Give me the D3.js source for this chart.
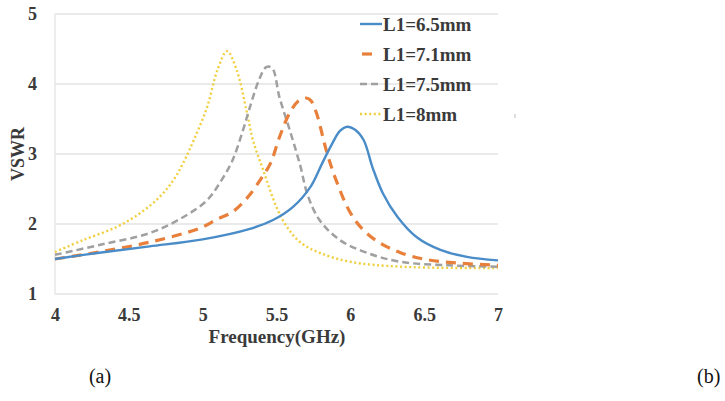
<!DOCTYPE html>
<html>
<head>
<meta charset="utf-8">
<script src="https://cdn.jsdelivr.net/npm/d3@7"></script>
<style>
  body { margin: 0; background: #fff; }
  svg { display: block; }
  .tick text { font-family: "Liberation Serif", "Times New Roman", serif; font-weight: bold; font-size: 18px; fill: #3a3a3a; }
</style>
</head>
<body>
<svg id="chart" width="725" height="401"></svg>
<script>
// frequency (GHz) / VSWR per series
const freq65 = [4, 4.3, 4.64, 5.0, 5.32, 5.48, 5.61, 5.73, 5.81, 5.88, 5.93, 5.98, 6.03, 6.09, 6.15, 6.22, 6.32, 6.45, 6.61, 6.79, 7];
const vswr65 = [1.5, 1.59, 1.68, 1.78, 1.93, 2.06, 2.24, 2.53, 2.87, 3.16, 3.33, 3.39, 3.35, 3.2, 2.81, 2.44, 2.1, 1.81, 1.63, 1.53, 1.48];

const freq71 = [4, 4.3, 4.64, 4.98, 5.1, 5.2, 5.27, 5.32, 5.39, 5.46, 5.52, 5.59, 5.65, 5.7, 5.73, 5.77, 5.84, 5.91, 6.0, 6.09, 6.2, 6.34, 6.52, 6.74, 7];
const vswr71 = [1.5, 1.6, 1.74, 1.94, 2.07, 2.17, 2.3, 2.42, 2.63, 2.87, 3.24, 3.59, 3.76, 3.8, 3.77, 3.59, 3.03, 2.59, 2.16, 1.91, 1.73, 1.59, 1.49, 1.44, 1.41];

const freq75 = [4, 4.3, 4.64, 4.87, 5.03, 5.12, 5.2, 5.27, 5.32, 5.38, 5.43, 5.47, 5.52, 5.59, 5.66, 5.71, 5.79, 5.93, 6.11, 6.34, 6.67, 7];
const vswr75 = [1.56, 1.7, 1.87, 2.1, 2.34, 2.6, 2.9, 3.32, 3.67, 4.05, 4.24, 4.23, 3.81, 3.34, 2.84, 2.42, 2.06, 1.77, 1.59, 1.46, 1.41, 1.39];

const freq80 = [4, 4.19, 4.42, 4.58, 4.71, 4.8, 4.87, 4.94, 5.03, 5.1, 5.165, 5.23, 5.3, 5.34, 5.41, 5.5, 5.57, 5.66, 5.79, 6.0, 6.34, 7];
const vswr80 = [1.6, 1.77, 1.96, 2.16, 2.39, 2.62, 2.88, 3.2, 3.67, 4.2, 4.47, 4.2, 3.59, 3.2, 2.77, 2.24, 1.96, 1.74, 1.59, 1.46, 1.39, 1.37];

const seriesNames = ["L1=6.5mm", "L1=7.1mm", "L1=7.5mm", "L1=8mm"];
const xTicks = [4, 4.5, 5, 5.5, 6, 6.5, 7];
const yTicks = [1, 2, 3, 4, 5];

const series = [
    {name: seriesNames[0], f: freq65, v: vswr65, color: "#4a8cc8", dash: null, width: 2.4, sample: [0, 22]},
    {name: seriesNames[1], f: freq71, v: vswr71, color: "#e8803c", dash: "10,7", width: 3.2, sample: [2, 14]},
    {name: seriesNames[2], f: freq75, v: vswr75, color: "#a0a0a0", dash: "7,4", width: 2.5, sample: [0, 22]},
    {name: seriesNames[3], f: freq80, v: vswr80, color: "#f0cf3e", dash: "2,2.6", width: 2.4, sample: [0, 22]}
];

const svg = d3.select("#chart");
const serif = '"Liberation Serif", "Times New Roman", serif';
const textColor = "#3a3a3a";

const x = d3.scaleLinear().domain([4, 7]).range([55, 498]);
const y = d3.scaleLinear().domain([1, 5]).range([294, 14]);

// gridlines
svg.append("g")
    .selectAll("line")
    .data(yTicks)
    .join("line")
    .attr("x1", x(4)).attr("x2", x(7))
    .attr("y1", d => y(d)).attr("y2", d => y(d))
    .attr("stroke", "#e3e3e3")
    .attr("stroke-width", 1.3);

// left axis line
svg.append("line")
    .attr("x1", x(4)).attr("x2", x(4))
    .attr("y1", y(5)).attr("y2", y(1))
    .attr("stroke", "#e3e3e3").attr("stroke-width", 1.3);

// axes (labels only)
const xAxis = svg.append("g")
    .attr("transform", `translate(0,${y(1)})`)
    .call(d3.axisBottom(x).tickValues(xTicks).tickSize(0).tickPadding(14).tickFormat(d3.format("")));
xAxis.select(".domain").remove();

const yAxis = svg.append("g")
    .attr("transform", `translate(${x(4)},0)`)
    .call(d3.axisLeft(y).tickValues(yTicks).tickSize(0).tickPadding(18).tickFormat(d3.format("d")));
yAxis.select(".domain").remove();

// curves
const line = d3.line()
    .x(d => x(d[0]))
    .y(d => y(d[1]))
    .curve(d3.curveCatmullRom.alpha(0.5));

svg.append("g")
    .selectAll("path")
    .data(series.slice().reverse())
    .join("path")
    .attr("fill", "none")
    .attr("stroke", d => d.color)
    .attr("stroke-width", d => d.width)
    .attr("stroke-dasharray", d => d.dash)
    .attr("d", d => line(d.f.map((f, i) => [f, d.v[i]])));

// legend
const legend = svg.append("g").attr("transform", "translate(360,24)");
const item = legend.selectAll("g")
    .data(series)
    .join("g")
    .attr("transform", (d, i) => `translate(0,${i * 30})`);
item.append("line")
    .attr("x1", d => d.sample[0]).attr("x2", d => d.sample[1])
    .attr("y1", 0).attr("y2", 0)
    .attr("stroke", d => d.color)
    .attr("stroke-width", d => d.width)
    .attr("stroke-dasharray", d => d.dash);
item.append("text")
    .attr("x", 23).attr("y", 0).attr("dy", "0.35em")
    .attr("font-family", serif).attr("font-weight", "bold").attr("font-size", 19)
    .attr("fill", textColor)
    .text(d => d.name);

// axis titles
svg.append("text")
    .attr("transform", `translate(24,${(y(5) + y(1)) / 2}) rotate(-90)`)
    .attr("text-anchor", "middle")
    .attr("font-family", serif).attr("font-weight", "bold").attr("font-size", 18)
    .attr("fill", textColor)
    .text("VSWR");

svg.append("text")
    .attr("x", 277).attr("y", 343)
    .attr("text-anchor", "middle")
    .attr("font-family", serif).attr("font-weight", "bold").attr("font-size", 19)
    .attr("fill", textColor)
    .text("Frequency(GHz)");

// tiny stray mark right of the plot
svg.append("line")
    .attr("x1", 515).attr("x2", 515).attr("y1", 114).attr("y2", 118)
    .attr("stroke", "#bbb").attr("stroke-width", 1);

// panel captions
svg.append("text")
    .attr("x", 100).attr("y", 383)
    .attr("text-anchor", "middle")
    .attr("font-family", serif).attr("font-size", 20)
    .attr("fill", "#111")
    .text("(a)");
svg.append("text")
    .attr("x", 697).attr("y", 383)
    .attr("font-family", serif).attr("font-size", 20)
    .attr("fill", "#111")
    .text("(b)");
</script>
</body>
</html>
